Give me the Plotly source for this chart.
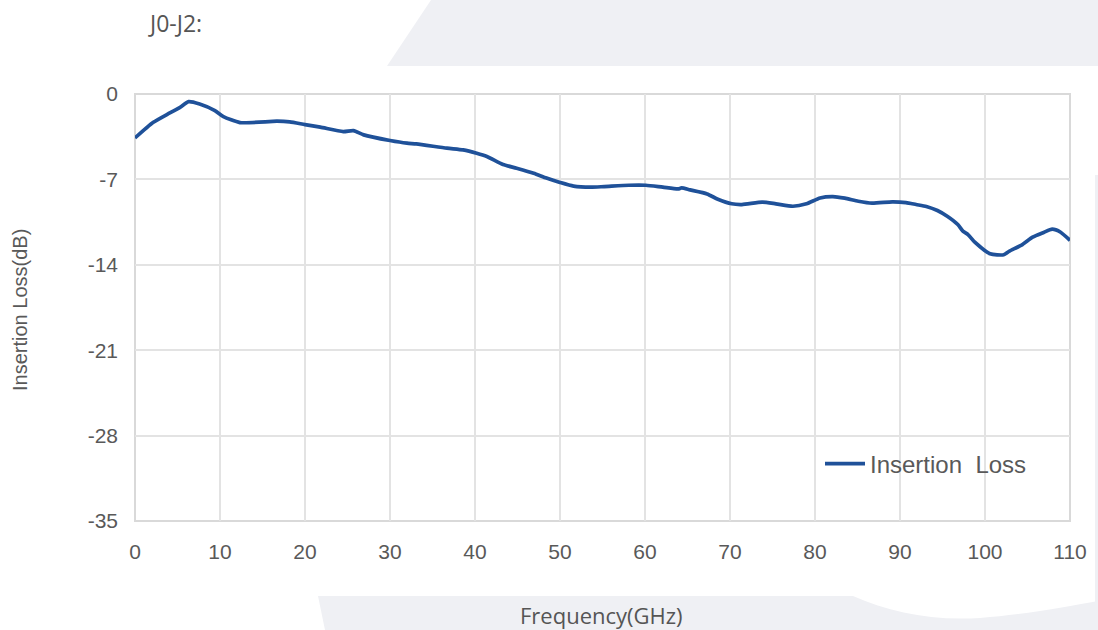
import plotly.graph_objects as go

freq_ghz = [0, 2.16, 4.1, 5.3, 6.3, 7.6, 9.4, 10.4, 12.35, 16.7, 18.2, 20, 21.8, 24.5, 25.7,
            26.9, 30, 32, 33.1, 36.7, 38.6, 40.2, 41.4, 43.3, 44.9, 46.9, 48.4, 50, 51.6,
            53.6, 55.2, 58.1, 60.1, 62.1, 63.9, 64.3, 65.3, 67.3, 68.5, 70.2, 71.4, 73.8,
            75.4, 77.4, 79.0, 80.6, 82.1, 83.5, 85.1, 86.7, 89.1, 90.7, 91.9, 93.1, 94.4,
            95.6, 96.8, 97.4, 98.0, 98.8, 100.6, 102.2, 102.8, 104.4, 105.6, 106.9, 107.9,
            108.9, 110]
insertion_loss_db = [-3.6, -2.32, -1.55, -1.09, -0.63, -0.82, -1.36, -1.85, -2.34, -2.23, -2.29,
                     -2.51, -2.72, -3.08, -3.0, -3.35, -3.81, -4.03, -4.09, -4.44, -4.58, -4.85,
                     -5.12, -5.78, -6.08, -6.49, -6.89, -7.25, -7.55, -7.64, -7.59, -7.48, -7.48,
                     -7.64, -7.78, -7.7, -7.86, -8.19, -8.6, -9.0, -9.06, -8.87, -9.0, -9.2, -9.0,
                     -8.52, -8.41, -8.54, -8.79, -8.95, -8.84, -8.9, -9.06, -9.22, -9.55, -10.04,
                     -10.7, -11.24, -11.52, -12.15, -13.1, -13.18, -12.91, -12.34, -11.74, -11.35,
                     -11.08, -11.33, -12.0]
x_ticks = [0, 10, 20, 30, 40, 50, 60, 70, 80, 90, 100, 110]
y_ticks = [0, -7, -14, -21, -28, -35]

W, H = 1098, 630
L, R, T, B = 135, 28, 94, 109
pw, ph = W - L - R, H - T - B

def px(x):
    return (x - L) / pw

def py(y):
    return (H - B - y) / ph

GREY = "#eff0f4"
fig = go.Figure()
fig.add_trace(go.Scatter(
    x=freq_ghz, y=insertion_loss_db, mode="lines", name="Insertion  Loss",
    line=dict(color="#1f5199", width=3.7, shape="spline", smoothing=0.6),
))

shapes = [
    dict(type="path", xref="paper", yref="paper", layer="below",
         path=f"M {px(431)} {py(0)} L {px(1098)} {py(0)} L {px(1098)} {py(66)} L {px(387)} {py(66)} Z",
         fillcolor=GREY, line=dict(width=0)),
    dict(type="path", xref="paper", yref="paper", layer="below",
         path=(f"M {px(318)} {py(596)} L {px(853)} {py(596)} "
               f"C {px(890)} {py(612)}, {px(930)} {py(621)}, {px(980)} {py(618)} "
               f"C {px(1030)} {py(614)}, {px(1070)} {py(606)}, {px(1098)} {py(601)} "
               f"L {px(1098)} {py(630)} L {px(325)} {py(630)} Z"),
         fillcolor=GREY, line=dict(width=0)),
    dict(type="rect", xref="paper", yref="paper", layer="below",
         x0=px(1095), x1=px(1098), y0=py(175), y1=py(630),
         fillcolor=GREY, line=dict(width=0)),
    dict(type="rect", xref="paper", yref="paper", layer="below",
         x0=0, x1=1, y0=0, y1=1, fillcolor="white",
         line=dict(color="#d9d9d9", width=2)),
]

annotations = [
    dict(text="J0-J2:", xref="paper", yref="paper", x=px(146), y=py(23),
         xanchor="left", yanchor="middle", showarrow=False,
         font=dict(family="Open Sans", size=23, color="#555555")),
    dict(text="Frequency(GHz)", xref="paper", yref="paper", x=px(601), y=py(615),
         xanchor="center", yanchor="middle", showarrow=False,
         font=dict(family="Open Sans", size=22, color="#555555")),
    dict(text="Insertion Loss(dB)", xref="paper", yref="paper", x=px(20), y=py(310),
         xanchor="center", yanchor="middle", showarrow=False, textangle=-90,
         font=dict(family="Liberation Sans", size=20, color="#595959")),
]

fig.update_layout(
    width=W, height=H,
    margin=dict(l=L, r=R, t=T, b=B, pad=0),
    paper_bgcolor="white", plot_bgcolor="rgba(0,0,0,0)",
    shapes=shapes, annotations=annotations,
    showlegend=True,
    legend=dict(x=px(820), y=py(464), xanchor="left", yanchor="middle",
                bgcolor="rgba(0,0,0,0)", font=dict(family="Liberation Sans", size=24, color="#595959"),
                itemwidth=40),
    font=dict(family="Liberation Sans", color="#595959"),
)
fig.update_xaxes(range=[0, 110], tickvals=x_ticks, ticktext=[str(v) for v in x_ticks],
                 showgrid=True, gridcolor="#e3e3e3", gridwidth=1.5, zeroline=False,
                 showline=False, ticks="", ticklabelstandoff=16,
                 tickfont=dict(family="Liberation Sans", size=21, color="#595959"))
fig.update_yaxes(range=[-35, 0], tickvals=y_ticks, ticktext=[str(v) for v in y_ticks],
                 showgrid=True, gridcolor="#e3e3e3", gridwidth=1.5, zeroline=False,
                 showline=False, ticks="", ticklabelstandoff=16,
                 tickfont=dict(family="Liberation Sans", size=21, color="#595959"))

fig.write_html("out.html", config={"displayModeBar": False},
               post_script="document.body.style.margin='0';document.body.style.overflow='hidden';")
